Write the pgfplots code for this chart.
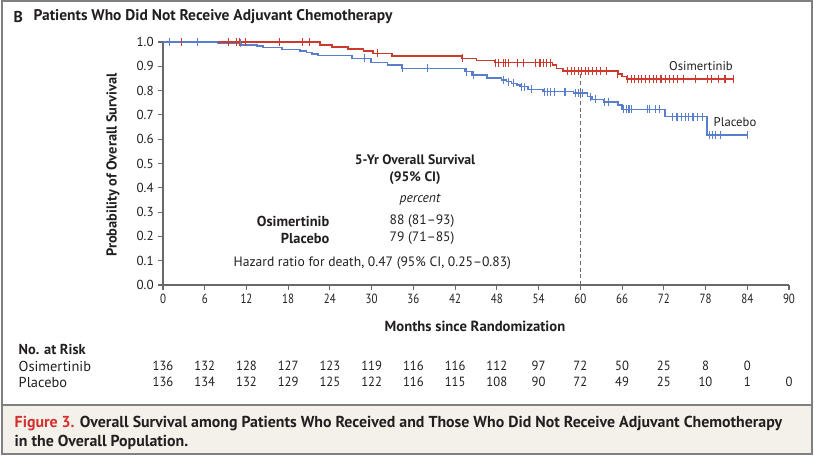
\documentclass[border=0pt]{standalone}
\usepackage{pgfplots}
\pgfplotsset{compat=1.18}
\usepackage{fontspec}
\setmainfont{PT Sans}
\newfontfamily\condfont[FakeStretch=0.82]{PT Sans}
\newfontfamily\riskfont[FakeStretch=0.95]{PT Sans}

\definecolor{osired}{RGB}{204,58,46}
\definecolor{plablue}{RGB}{88,126,204}
\definecolor{axgray}{RGB}{105,105,105}
\definecolor{framegray}{RGB}{128,128,128}
\definecolor{capbg}{RGB}{244,240,234}
\definecolor{capred}{RGB}{211,48,48}
\definecolor{txt}{RGB}{35,31,32}

\begin{document}
\begin{tikzpicture}
% frame and caption box, in pixel units of the reference
\begin{scope}[x=0.75pt,y=-0.75pt]
  \useasboundingbox (0,0) rectangle (814,455);
  \fill[capbg] (2,405) rectangle (812,454);
  \draw[framegray,line width=1.2pt] (2,1) rectangle (812,454);
  \draw[framegray,line width=1.2pt] (2,405) -- (812,405);
  \node[anchor=west,font=\fontsize{11.8}{13}\selectfont\bfseries,text=txt] at (9,17) {B};
  \node[anchor=west,font=\fontsize{11.6}{13}\selectfont\bfseries,text=txt] at (29,17) {Patients Who Did Not Receive Adjuvant Chemotherapy};
  % axis titles
  \node[rotate=90,font=\fontsize{10.8}{12}\selectfont\bfseries,text=txt] at (113,165) {Probability of Overall Survival};
  \node[font=\fontsize{11}{12}\selectfont\bfseries,text=txt] at (475,326) {Months since Randomization};
  % inset text
  \begin{scope}[font=\fontsize{10.2}{12}\selectfont,text=txt]
    \node[font=\fontsize{10.3}{12}\selectfont\bfseries] at (415,160) {5-Yr Overall Survival};
    \node[font=\fontsize{10.3}{12}\selectfont\bfseries] at (415,178) {(95\% CI)};
    \node[font=\fontsize{10.2}{12}\selectfont\itshape] at (420,200) {percent};
    \node[anchor=east,font=\fontsize{10.8}{12}\selectfont\bfseries] at (334,221) {Osimertinib};
    \node[anchor=west] at (385,221) {88 (81–93)};
    \node[anchor=east,font=\fontsize{10.8}{12}\selectfont\bfseries] at (334,238) {Placebo};
    \node[anchor=west] at (385,238) {79 (71–85)};
    \node[anchor=west] at (229,263) {Hazard ratio for death, 0.47 (95\% CI, 0.25–0.83)};
  \end{scope}
  \node[font=\fontsize{9.5}{11}\selectfont,text=txt] at (701,66) {Osimertinib};
  \node[font=\fontsize{9.5}{11}\selectfont,text=txt] at (735,122) {Placebo};
  % number at risk
  \begin{scope}[font=\fontsize{10.8}{12}\selectfont,text=txt]
    \node[anchor=west,font=\fontsize{10.8}{12}\selectfont\bfseries] at (14,349) {No. at Risk};
    \node[anchor=west] at (14,366) {Osimertinib};
    \node[anchor=west] at (14,382) {Placebo};
    \foreach \n [count=\i from 0] in {136,132,128,127,123,119,116,116,112,97,72,50,25,8,0}
      \node[font=\fontsize{10}{12}\riskfont] at (163+\i*41.73,366) {\n};
    \foreach \n [count=\i from 0] in {136,134,132,129,125,122,116,115,108,90,72,49,25,10,1,0}
      \node[font=\fontsize{10}{12}\riskfont] at (163+\i*41.73,382) {\n};
  \end{scope}
  \node[anchor=west,font=\fontsize{11.9}{13}\selectfont\bfseries,text=txt] at (10,424)
    {\textcolor{capred}{Figure 3.} Overall Survival among Patients Who Received and Those Who Did Not Receive Adjuvant Chemotherapy};
  \node[anchor=west,font=\fontsize{11.9}{13}\selectfont\bfseries,text=txt] at (10,442)
    {in the Overall Population.};
\end{scope}

\begin{axis}[
  at={(122.25pt,-213.75pt)}, anchor=south west,
  scale only axis, width=469.5pt, height=182.25pt,
  xmin=0, xmax=90, ymin=0, ymax=1,
  axis lines=left,
  axis line style={-, draw=axgray, line width=1.1pt},
  xtick={0,6,12,18,24,30,36,42,48,54,60,66,72,78,84,90},
  ytick={0,0.1,0.2,0.3,0.4,0.5,0.6,0.7,0.8,0.9,1},
  tick align=outside, major tick length=3.5pt,
  tick style={axgray, line width=0.8pt},
  /pgf/number format/assume math mode=true,
  yticklabel style={font=\fontsize{9.8}{11}\selectfont, text=txt,
    /pgf/number format/fixed, /pgf/number format/fixed zerofill,
    /pgf/number format/precision=1},
  xticklabel style={font=\fontsize{10}{11}\condfont, text=txt},
  clip=false,
]
% 5-year reference line
\addplot[densely dashed, axgray, line width=0.7pt] coordinates {(60,0) (60,0.88)};

% Osimertinib
\addplot[const plot, osired, line width=1.1pt] coordinates {
 (0,1.0) (22.6,0.988) (24.3,0.979) (26.6,0.971) (28.8,0.963) (30.2,0.953)
 (32.9,0.942) (43.0,0.933) (45.1,0.923) (47.7,0.915) (56.0,0.905) (56.6,0.892)
 (57.5,0.880) (65.4,0.868) (66.0,0.857) (66.7,0.847) (82.0,0.847)};
\addplot[only marks, mark=|, mark size=3pt, osired, mark options={line width=0.8pt}] coordinates {
 (0.9,1) (2.7,1) (9.4,1) (10.5,1) (11,1) (11.8,1) (16.7,1) (20,1) (21,1)
 (30.8,0.953) (43,0.933) (47.8,0.915) (48.3,0.915) (49,0.915) (49.3,0.915)
 (49.7,0.915) (51,0.915) (51.8,0.915) (53.5,0.915) (54.2,0.915) (54.7,0.915)
 (55.2,0.915) (55.7,0.915) (58.2,0.88) (58.7,0.88) (59.2,0.88) (59.7,0.88)
 (60.2,0.88) (60.7,0.88) (61.2,0.88) (61.7,0.88) (62.3,0.88) (62.9,0.88)
 (63.8,0.88) (65.4,0.868) (66.8,0.847) (67.3,0.847) (67.8,0.847) (68.3,0.847)
 (68.8,0.847) (69.4,0.847) (70,0.847) (70.5,0.847) (71,0.847) (71.6,0.847)
 (72.2,0.847) (72.8,0.847) (73.4,0.847) (74,0.847) (74.8,0.847) (76.5,0.847)
 (78.3,0.847) (78.9,0.847) (79.8,0.847) (80.8,0.847) (82,0.847)};

% Placebo
\addplot[const plot, plablue, line width=1.1pt] coordinates {
 (0,1.0) (7.8,0.994) (11.3,0.988) (13.5,0.983) (14.4,0.977) (17.1,0.970)
 (19.7,0.963) (20.6,0.957) (21.4,0.951) (22.3,0.944) (27.2,0.933) (29.9,0.916)
 (32.3,0.905) (34.3,0.892) (43.4,0.878) (44.4,0.864) (46.6,0.851) (48.7,0.844)
 (49.4,0.837) (50.1,0.830) (50.9,0.823) (51.3,0.816) (52.5,0.805) (54.6,0.796)
 (59.0,0.790) (61.0,0.775) (61.7,0.764) (63.3,0.754) (65.4,0.741) (66.0,0.723)
 (72.2,0.693) (78.2,0.617) (84.0,0.617)};
\addplot[only marks, mark=|, mark size=3pt, plablue, mark options={line width=0.8pt}] coordinates {
 (1.0,1) (4.9,1) (11.1,0.994) (29,0.933) (34.4,0.892) (38,0.892) (43.7,0.878)
 (44.6,0.864) (49,0.844) (49.7,0.837) (50.4,0.830) (51.5,0.816) (52.0,0.816)
 (53,0.805) (54.8,0.796) (55.3,0.796) (55.7,0.796) (56.3,0.796) (57.8,0.796)
 (59.3,0.79) (59.8,0.79) (60.3,0.79) (61.4,0.775) (62.2,0.764) (63.5,0.754)
 (64,0.754) (66.2,0.723) (66.6,0.723) (67,0.723) (67.4,0.723) (69.6,0.723)
 (70,0.723) (70.8,0.723) (71.4,0.723) (73.3,0.693) (73.9,0.693) (74.6,0.693)
 (75.1,0.693) (75.6,0.693) (76.2,0.693) (76.8,0.693) (77.6,0.693) (78.6,0.617)
 (79.0,0.617) (79.5,0.617) (80.1,0.617) (84,0.617)};
\end{axis}
\end{tikzpicture}
\end{document}
